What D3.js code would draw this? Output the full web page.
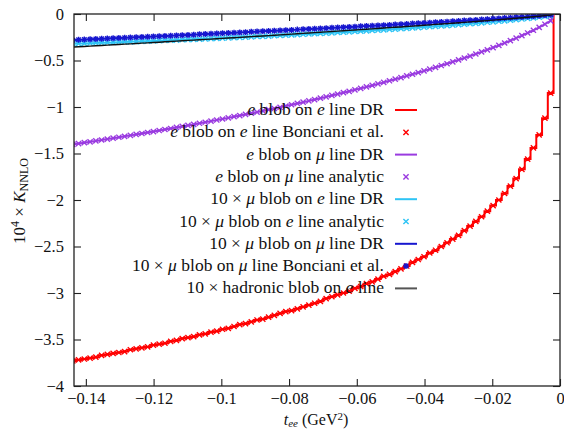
<!DOCTYPE html>
<html><head><meta charset="utf-8">
<script src="https://cdn.jsdelivr.net/npm/d3@7"></script>
<style>
body{margin:0;background:#fff;}
svg text{font-family:"Liberation Serif","DejaVu Serif",serif;fill:#111;}
</style></head>
<body><svg id="c" width="564" height="431"></svg>
<script>
// ---- data ----
const tEdges = [-0.1447,-0.1430,-0.1413,-0.1396,-0.1379,-0.1362,-0.1345,-0.1328,-0.1311,-0.1294,
-0.1277,-0.1260,-0.1243,-0.1226,-0.1209,-0.1192,-0.1175,-0.1158,-0.1141,-0.1124,
-0.1107,-0.1090,-0.1073,-0.1056,-0.1039,-0.1022,-0.1005,-0.0988,-0.0971,-0.0954,
-0.0937,-0.0920,-0.0903,-0.0886,-0.0869,-0.0852,-0.0835,-0.0818,-0.0801,-0.0784,
-0.0767,-0.0750,-0.0733,-0.0716,-0.0699,-0.0682,-0.0665,-0.0648,-0.0631,-0.0614,
-0.0597,-0.0580,-0.0563,-0.0546,-0.0529,-0.0512,-0.0495,-0.0478,-0.0461,-0.0444,
-0.0427,-0.0410,-0.0393,-0.0376,-0.0359,-0.0342,-0.0325,-0.0308,-0.0291,-0.0274,
-0.0257,-0.0240,-0.0223,-0.0206,-0.0189,-0.0172,-0.0155,-0.0138,-0.0121,-0.0104,
-0.0087,-0.0070,-0.0053,-0.0036,-0.0019];

// e blob on e line (DR histogram bins, last value = endpoint)
const eeLineDR = [-3.73,-3.72,-3.71,-3.70,-3.69,-3.67,-3.66,-3.65,-3.64,-3.63,
-3.61,-3.60,-3.59,-3.58,-3.56,-3.55,-3.54,-3.52,-3.51,-3.49,
-3.48,-3.47,-3.45,-3.44,-3.42,-3.41,-3.39,-3.38,-3.36,-3.34,
-3.33,-3.31,-3.29,-3.28,-3.26,-3.24,-3.22,-3.20,-3.19,-3.17,
-3.15,-3.13,-3.11,-3.09,-3.06,-3.04,-3.02,-3.00,-2.98,-2.95,
-2.93,-2.90,-2.88,-2.85,-2.82,-2.80,-2.77,-2.74,-2.71,-2.67,
-2.64,-2.61,-2.57,-2.54,-2.50,-2.46,-2.42,-2.38,-2.33,-2.28,
-2.23,-2.18,-2.12,-2.06,-2.00,-1.93,-1.85,-1.77,-1.67,-1.56,
-1.44,-1.30,-1.12,-0.85,0];

const eMuLineDR = [-1.402,-1.393,-1.384,-1.374,-1.365,-1.355,-1.345,-1.335,-1.325,-1.315,
-1.305,-1.295,-1.285,-1.274,-1.264,-1.253,-1.242,-1.231,-1.220,-1.209,
-1.198,-1.187,-1.175,-1.164,-1.152,-1.140,-1.129,-1.117,-1.104,-1.092,
-1.080,-1.067,-1.055,-1.042,-1.029,-1.016,-1.003,-0.989,-0.976,-0.962,
-0.948,-0.934,-0.920,-0.905,-0.891,-0.876,-0.861,-0.846,-0.831,-0.815,
-0.800,-0.784,-0.768,-0.751,-0.735,-0.718,-0.701,-0.684,-0.666,-0.648,
-0.630,-0.612,-0.593,-0.574,-0.554,-0.535,-0.514,-0.494,-0.473,-0.452,
-0.430,-0.407,-0.385,-0.361,-0.337,-0.312,-0.287,-0.260,-0.233,-0.204,
-0.175,-0.143,-0.110,-0.074,0];

const muELineDR = [-0.321,-0.318,-0.316,-0.314,-0.312,-0.310,-0.308,-0.306,-0.303,-0.301,
-0.299,-0.297,-0.294,-0.292,-0.290,-0.287,-0.285,-0.282,-0.280,-0.277,
-0.275,-0.272,-0.270,-0.267,-0.265,-0.262,-0.259,-0.256,-0.254,-0.251,
-0.248,-0.245,-0.242,-0.240,-0.237,-0.234,-0.231,-0.228,-0.225,-0.221,
-0.218,-0.215,-0.212,-0.209,-0.205,-0.202,-0.199,-0.195,-0.192,-0.188,
-0.185,-0.181,-0.177,-0.173,-0.170,-0.166,-0.162,-0.158,-0.154,-0.150,
-0.146,-0.141,-0.137,-0.133,-0.128,-0.124,-0.119,-0.114,-0.110,-0.105,
-0.100,-0.095,-0.089,-0.084,-0.078,-0.073,-0.067,-0.061,-0.054,-0.048,
-0.041,-0.033,-0.026,-0.017,0];

const muMuLineDR = [-0.281,-0.278,-0.275,-0.272,-0.270,-0.267,-0.264,-0.261,-0.259,-0.256,
-0.253,-0.250,-0.247,-0.245,-0.242,-0.239,-0.236,-0.233,-0.230,-0.228,
-0.225,-0.222,-0.219,-0.216,-0.213,-0.210,-0.207,-0.204,-0.201,-0.198,
-0.195,-0.192,-0.189,-0.186,-0.183,-0.180,-0.177,-0.174,-0.171,-0.168,
-0.165,-0.162,-0.159,-0.156,-0.153,-0.149,-0.146,-0.143,-0.140,-0.137,
-0.133,-0.130,-0.127,-0.123,-0.120,-0.117,-0.113,-0.110,-0.107,-0.103,
-0.100,-0.096,-0.093,-0.089,-0.086,-0.082,-0.079,-0.075,-0.071,-0.068,
-0.064,-0.060,-0.056,-0.052,-0.048,-0.044,-0.040,-0.036,-0.032,-0.028,
-0.023,-0.019,-0.014,-0.009,0];

const hadELine = [-0.356,-0.352,-0.349,-0.345,-0.342,-0.338,-0.335,-0.331,-0.328,-0.324,
-0.321,-0.317,-0.313,-0.310,-0.306,-0.303,-0.299,-0.295,-0.292,-0.288,
-0.284,-0.281,-0.277,-0.273,-0.270,-0.266,-0.262,-0.258,-0.255,-0.251,
-0.247,-0.243,-0.239,-0.236,-0.232,-0.228,-0.224,-0.220,-0.216,-0.212,
-0.208,-0.204,-0.200,-0.196,-0.192,-0.188,-0.184,-0.180,-0.176,-0.172,
-0.168,-0.164,-0.160,-0.156,-0.151,-0.147,-0.143,-0.139,-0.134,-0.130,
-0.126,-0.121,-0.117,-0.112,-0.108,-0.103,-0.099,-0.094,-0.090,-0.085,
-0.080,-0.075,-0.071,-0.066,-0.061,-0.056,-0.051,-0.045,-0.040,-0.035,
-0.029,-0.024,-0.018,-0.012,0];

// point series (evaluated at the bin centres; they lie on the DR curves)
const eeLineBonciani = eeLineDR.slice(0, 84);
const eMuLineAnalytic = eMuLineDR.slice(0, 84);
const muELineAnalytic = muELineDR.slice(0, 84);
const muMuLineBonciani = muMuLineDR.slice(0, 84);

const xTicks = [-0.14,-0.12,-0.1,-0.08,-0.06,-0.04,-0.02,0];
const xTickLabels = ["−0.14","−0.12","−0.1","−0.08","−0.06","−0.04","−0.02","0"];
const yTicks = [0,-0.5,-1,-1.5,-2,-2.5,-3,-3.5,-4];
const yTickLabels = ["0","−0.5","−1","−1.5","−2","−2.5","−3","−3.5","−4"];

const legendLabels = [
 "$e$ blob on $e$ line DR",
 "$e$ blob on $e$ line Bonciani et al.",
 "$e$ blob on $μ$ line DR",
 "$e$ blob on $μ$ line analytic",
 "10 × $μ$ blob on $e$ line DR",
 "10 × $μ$ blob on $e$ line analytic",
 "10 × $μ$ blob on $μ$ line DR",
 "10 × $μ$ blob on $μ$ line Bonciani et al.",
 "10 × hadronic blob on $e$ line"
];

// ---- layout ----
const FONT='"Liberation Serif","DejaVu Serif",serif';
const L=74,R=560,T=14,B=386;
const svg=d3.select("#c");
const x=d3.scaleLinear().domain([-0.1435,0]).range([L,R]);
const y=d3.scaleLinear().domain([-4,0]).range([B,T]);

const COL={red:"#ff0000",purple:"#9a3be0",cyan:"#2ec4f5",blue:"#1616cf",black:"#111111"};

svg.append("defs").append("clipPath").attr("id","clip")
  .append("rect").attr("x",L).attr("y",T).attr("width",R-L).attr("height",B-T);

// axes (ticks inward on all four sides)
const fmtX=(d,i)=>xTickLabels[i], fmtY=(d,i)=>yTickLabels[i];
const gx=svg.append("g").attr("transform",`translate(0,${B})`)
  .call(d3.axisBottom(x).tickValues(xTicks).tickFormat(fmtX).tickSize(-7).tickPadding(6));
const gxt=svg.append("g").attr("transform",`translate(0,${T})`)
  .call(d3.axisTop(x).tickValues(xTicks).tickFormat("").tickSize(-7));
const gy=svg.append("g").attr("transform",`translate(${L},0)`)
  .call(d3.axisLeft(y).tickValues(yTicks).tickFormat(fmtY).tickSize(-7).tickPadding(10));
const gyr=svg.append("g").attr("transform",`translate(${R},0)`)
  .call(d3.axisRight(y).tickValues(yTicks).tickFormat("").tickSize(-7));
[gx,gxt,gy,gyr].forEach(g=>{
  g.attr("font-family",null);
  g.select(".domain").remove();
  g.selectAll(".tick line").attr("stroke","#222").attr("stroke-width",1.1);
  g.selectAll(".tick text").style("font-family",FONT).style("font-size","16.5px").attr("fill","#111");
});

const plot=svg.append("g").attr("clip-path","url(#clip)");
const centers=d3.range(tEdges.length-1).map(i=>(tEdges[i]+tEdges[i+1])/2);

function smoothPts(vals){
  const p=centers.map((t,i)=>[t,vals[i]]);
  p.push([tEdges[tEdges.length-1],vals[vals.length-1]]);
  return p;
}
const line=d3.line().x(d=>x(d[0])).y(d=>y(d[1]));
const stepLine=d3.line().x(d=>x(d[0])).y(d=>y(d[1])).curve(d3.curveStepAfter);

function crossPath(cx,cy,s){return `M${cx-s},${cy-s}L${cx+s},${cy+s}M${cx-s},${cy+s}L${cx+s},${cy-s}`;}
function starPath(cx,cy,s){return crossPath(cx,cy,s*0.75)+`M${cx-s},${cy}L${cx+s},${cy}M${cx},${cy-s}L${cx},${cy+s}`;}

function drawPoints(g,vals,color,shape){
  g.append("path")
   .attr("d",vals.map((v,i)=>shape==="star"?starPath(x(centers[i]),y(v),3):crossPath(x(centers[i]),y(v),2.6)).join(""))
   .attr("fill","none").attr("stroke",color).attr("stroke-width",1.4);
}

// series in gnuplot order
plot.append("path").attr("d",stepLine(tEdges.map((t,i)=>[t,eeLineDR[i]])))
  .attr("fill","none").attr("stroke",COL.red).attr("stroke-width",2);
drawPoints(plot,eeLineBonciani,COL.red,"x");
plot.append("path").attr("d",line(smoothPts(eMuLineDR)))
  .attr("fill","none").attr("stroke",COL.purple).attr("stroke-width",2);
drawPoints(plot,eMuLineAnalytic,COL.purple,"x");
plot.append("path").attr("d",line(smoothPts(muELineDR)))
  .attr("fill","none").attr("stroke",COL.cyan).attr("stroke-width",2);
drawPoints(plot,muELineAnalytic,COL.cyan,"x");
plot.append("path").attr("d",line(smoothPts(muMuLineDR)))
  .attr("fill","none").attr("stroke",COL.blue).attr("stroke-width",2);
drawPoints(plot,muMuLineBonciani,COL.blue,"star");
plot.append("path").attr("d",line(smoothPts(hadELine)))
  .attr("fill","none").attr("stroke",COL.black).attr("stroke-width",1.4);

// frame
svg.append("rect").attr("x",L).attr("y",T).attr("width",R-L).attr("height",B-T)
  .attr("fill","none").attr("stroke","#222").attr("stroke-width",1.3);

// legend
const legendStyle=[
 {type:"line",color:COL.red},{type:"x",color:COL.red},
 {type:"line",color:COL.purple},{type:"x",color:COL.purple},
 {type:"line",color:COL.cyan},{type:"x",color:COL.cyan},
 {type:"line",color:COL.blue},{type:"star",color:COL.blue},
 {type:"line",color:"#555"}
];
function richText(sel,str){
  str.split("$").forEach((part,i)=>{
    if(!part) return;
    sel.append("tspan").text(part).attr("font-style",i%2?"italic":null);
  });
}
const lg=svg.append("g");
legendLabels.forEach((lab,i)=>{
  const cy=110+i*22.3;
  const t=lg.append("text").attr("x",384).attr("y",cy+5).attr("text-anchor","end").style("font-size","17.5px");
  richText(t,lab);
  const st=legendStyle[i];
  if(st.type==="line") lg.append("line").attr("x1",395).attr("x2",417).attr("y1",cy).attr("y2",cy)
     .attr("stroke",st.color).attr("stroke-width",2);
  else lg.append("path").attr("d",st.type==="star"?starPath(406,cy,3):crossPath(406,cy,2.6))
     .attr("fill","none").attr("stroke",st.color).attr("stroke-width",1.4);
});

// axis titles
const xt=svg.append("text").attr("x",316).attr("y",425).attr("text-anchor","middle").style("font-size","16px");
xt.append("tspan").text("t").attr("font-style","italic");
xt.append("tspan").text("ee").attr("font-style","italic").style("font-size","11px").attr("dy",2);
xt.append("tspan").text(" (GeV").attr("dy",-2);
xt.append("tspan").text("2").style("font-size","11px").attr("dy",-5);
xt.append("tspan").text(")").attr("dy",5);

const yt=svg.append("text").attr("transform","translate(25,201) rotate(-90)").attr("text-anchor","middle").style("font-size","17px");
yt.append("tspan").text("10");
yt.append("tspan").text("4").style("font-size","12px").attr("dy",-6);
yt.append("tspan").text(" × ").attr("dy",6);
yt.append("tspan").text("K").attr("font-style","italic");
yt.append("tspan").text("NNLO").style("font-size","12px").attr("dy",3);
</script></body></html>
